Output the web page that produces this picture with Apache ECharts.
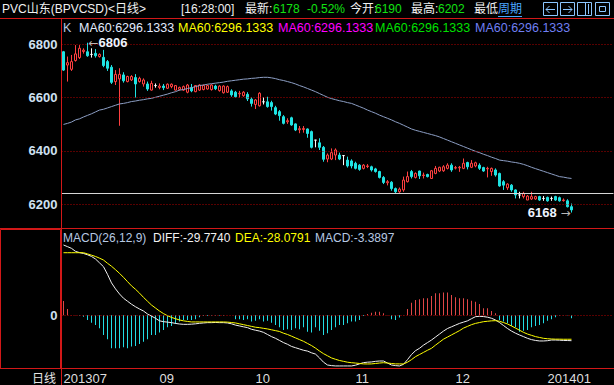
<!DOCTYPE html>
<html><head><meta charset="utf-8">
<script src="https://cdn.jsdelivr.net/npm/echarts@6/dist/echarts.min.js"></script>
<style>html,body{margin:0;padding:0;background:#000;}#c{width:614px;height:385px;}</style>
</head><body><div id="c"></div>
<script>
// ---- data ----
const open = [
6772,6722,6706,6739,6750,6773,6772,6762,6766,6754,
6751,6735,6714,6660,6670,6685,6660,6666,6675,6660,
6651,6651,6628,6645,6638,6643,6635,6641,6628,6631,
6628,6620,6637,6622,6628,6630,6632,6630,6643,6626,
6618,6620,6625,6620,6614,6607,6612,6594,6574,6569,
6584,6584,6581,6562,6547,6528,6509,6524,6501,6479,
6480,6482,6472,6440,6430,6413,6369,6369,6384,6384,
6382,6365,6362,6353,6346,6334,6341,6340,6332,6322,
6300,6280,6282,6258,6246,6253,6284,6322,6300,6324,
6307,6311,6296,6315,6324,6325,6334,6346,6335,6336,
6334,6356,6338,6343,6346,6337,6332,6322,6328,6315,
6284,6261,6271,6253,6234,6228,6215,6219,6219,6228,
6221,6225,6221,6228,6224,6213,6212,6190];
const close = [
6703,6731,6735,6764,6785,6778,6757,6762,6757,6762,
6720,6710,6657,6687,6687,6663,6679,6679,6651,6672,
6666,6632,6653,6645,6643,6637,6650,6650,6645,6638,
6641,6647,6625,6645,6647,6645,6645,6647,6633,6643,
6643,6641,6610,6603,6616,6620,6595,6578,6591,6616,
6584,6566,6566,6538,6532,6503,6513,6497,6478,6483,
6484,6465,6413,6440,6413,6368,6384,6393,6403,6369,
6382,6343,6343,6334,6330,6346,6343,6328,6322,6300,
6281,6284,6258,6246,6256,6290,6303,6303,6315,6306,
6309,6303,6325,6334,6338,6340,6346,6328,6337,6338,
6353,6340,6353,6355,6334,6324,6334,6334,6309,6268,
6271,6275,6253,6234,6234,6240,6230,6228,6228,6215,
6221,6212,6221,6215,6212,6215,6190,6178];
const low = [
6700,6660,6700,6735,6745,6765,6753,6750,6750,6750,
6714,6700,6651,6647,6494,6656,6657,6662,6600,6656,
6641,6625,6626,6637,6631,6628,6632,6635,6626,6626,
6625,6616,6620,6620,6625,6627,6630,6626,6628,6622,
6615,6617,6603,6600,6600,6603,6587,6566,6557,6566,
6574,6562,6551,6534,6513,6499,6501,6494,6474,6466,
6468,6449,6409,6413,6403,6359,6357,6365,6365,6365,
6346,6337,6334,6330,6325,6330,6335,6322,6318,6296,
6275,6270,6250,6240,6242,6246,6281,6296,6296,6294,
6296,6300,6294,6312,6320,6321,6330,6321,6330,6321,
6331,6330,6335,6338,6328,6321,6300,6306,6303,6265,
6253,6253,6246,6221,6221,6221,6215,6215,6216,6212,
6212,6209,6212,6212,6209,6209,6187,6168];
const high = [
6775,6754,6760,6797,6797,6785,6806,6785,6782,6766,
6779,6741,6722,6703,6710,6695,6682,6684,6688,6678,
6672,6660,6663,6653,6653,6651,6653,6653,6647,6641,
6645,6651,6651,6647,6650,6649,6648,6650,6648,6646,
6646,6645,6631,6625,6625,6624,6620,6601,6594,6620,
6601,6603,6588,6569,6553,6534,6522,6528,6503,6493,
6493,6484,6476,6440,6447,6418,6390,6409,6409,6393,
6384,6378,6368,6359,6350,6350,6350,6344,6336,6325,
6305,6290,6286,6262,6262,6303,6322,6328,6319,6325,
6318,6314,6328,6343,6340,6346,6353,6353,6343,6343,
6371,6359,6365,6359,6353,6340,6340,6337,6334,6318,
6290,6278,6275,6255,6246,6246,6234,6246,6231,6231,
6230,6228,6228,6231,6228,6221,6218,6202];
const ma60 = [
6499,6503,6508,6516,6520,6527,6533,6539,6546,6553,
6556,6561,6566,6571,6576,6578,6581,6585,6587,6590,
6592,6595,6597,6601,6605,6609,6613,6618,6622,6628,
6630,6634,6637,6641,6645,6647,6650,6652,6654,6656,
6658,6661,6663,6665,6667,6669,6670,6672,6673,6675,
6676,6676,6674,6671,6667,6664,6660,6656,6651,6645,
6640,6634,6628,6622,6615,6608,6601,6596,6592,6588,
6585,6581,6578,6572,6566,6560,6553,6547,6541,6534,
6528,6522,6516,6509,6503,6496,6489,6482,6477,6473,
6469,6465,6461,6457,6452,6446,6440,6434,6428,6422,
6416,6410,6404,6398,6393,6387,6382,6376,6371,6365,
6363,6361,6358,6356,6353,6349,6344,6338,6333,6328,
6323,6318,6313,6308,6303,6301,6298,6296.1333];
const diff = [
82.4,80.5,78.5,75,73.5,72.5,71,69,66,61.5,
57,48,38,31,25,20,16.5,13,10,7.4,
5,1.5,-1,-3.5,-6.5,-7.5,-8,-8.6,-9.5,-10.2,
-10.6,-10.6,-10.4,-10,-9.4,-9,-8.6,-8.6,-8.4,-8.6,
-8.6,-9,-10,-11.5,-12.5,-13.5,-14.5,-16.4,-17.5,-18.5,
-20,-22.5,-25,-27,-29.5,-32,-34,-36.5,-38,-39.5,
-41,-42,-44,-45.5,-50,-55,-58.3,-59,-59.4,-59.4,
-59.4,-59.4,-59.4,-58.5,-57,-55.5,-55,-54.7,-54,-53.6,
-53.6,-56,-58.3,-59,-59.4,-57.5,-52,-46,-41.5,-38.7,
-35,-32,-29,-25.5,-22,-18.5,-15.5,-13.5,-11.5,-9.5,
-8,-6.5,-4,-1.6,-1.2,-1.5,-2.2,-3.5,-5.5,-8.5,
-12,-15.5,-18.5,-21,-23.1,-25,-27,-28.5,-29.5,-30.1,
-30.1,-29.8,-29,-29,-29.2,-29.5,-29.6,-29.774];
const dea = [
73.4,73.4,73.4,73.4,73.4,73.4,72,70.5,69,67,
64.8,61,57.5,53.5,49.2,44.5,39.5,34.5,30.5,26,
21,16.5,12,8.5,5,2,-0.5,-2.5,-4,-5.5,
-6.5,-7.2,-7.8,-7.8,-7.8,-7.8,-7.8,-7.8,-7.8,-7.8,
-7.8,-8,-8.5,-9,-10,-11,-12,-13,-14,-14.5,
-15.3,-16,-17,-18,-19,-21,-22.5,-24.5,-26.5,-28.5,
-30.5,-33,-35.5,-38.5,-41.9,-45,-47.5,-50,-51.6,-53,
-54,-55,-55.6,-56,-56.5,-57,-57.1,-57,-56.5,-56,
-55.6,-56,-56.5,-57,-57,-57.1,-55,-52,-48.5,-46,
-43.5,-41,-38.7,-35,-31.5,-28,-25.5,-23,-20.5,-18,
-15,-13,-11,-9.5,-8.5,-7.5,-7,-6.5,-6.3,-7,
-8.5,-10.2,-12.5,-15,-17.5,-20,-22,-23.5,-25,-26,
-27,-27.5,-27.8,-28,-28,-28.1,-28.1,-28.0791];
const macd = [
16.8,7.4,0.3,0.2,-0.5,-1.6,-5.5,-8.6,-11.3,-15.2,
-23,-28.1,-38.7,-38.7,-38.7,-37.5,-38.7,-36.7,-35.9,-33.6,
-30.9,-28.1,-23,-23,-20.3,-17.2,-14.1,-12.5,-10.2,-7.4,
-5.5,-5.5,-5.5,-4.7,-2.3,-0.8,-0.8,-0.4,-0.4,-0.4,
-0.4,0.1,0.1,-4.7,-4.7,-5.5,-4.7,-7.4,-6.3,-4.7,
-7.4,-6.3,-8.6,-11.3,-14.1,-17.2,-16.4,-17.2,-15.2,-16.4,
-14.1,-19.2,-20.3,-14.1,-18,-23.1,-21.1,-17.2,-14.1,-11.3,
-11.3,-9.4,-7.4,-7.4,-5.5,-0.8,1.6,3.1,4.3,4.3,
2.3,0.2,-4.7,-5.5,-2.7,0.2,7.4,14.8,18,18.8,
19.9,19.9,22.7,25.8,25.8,26.6,26.6,23.8,21.1,19.9,
19.9,18.8,17.2,16,13.3,8.2,8.2,5.1,2.3,-5.5,
-7.4,-9.4,-12.5,-14.1,-19.2,-18,-17.2,-14.1,-12.5,-11.3,
-9.4,-6.3,-4.7,-2.3,-0.5,-0.3,-0.2,-3.3897];
const priceTicks = [6200, 6400, 6600, 6800];
const refLine = 6241;
const monthTickIdx = [0, 24, 48, 73, 98, 121];
const monthTickText = ['201307', '09', '10', '11', '12', '201401'];
const changePct = '-0.52%';
const clockText = '[16:28:00]';
const SLOTS = 138; // empty room at right of the last candle
const slots = Array.from({length: SLOTS}, (_, i) => String(i));

// ---- derived ----
const candleData = open.map((o, i) => [o, close[i], low[i], high[i]]);
let hiIdx = 0, loIdx = 0;
high.forEach((v, i) => { if (v > high[hiIdx]) hiIdx = i; });
low.forEach((v, i) => { if (v < low[loIdx]) loIdx = i; });
const last = open.length - 1;

const RED = '#d21818';
const UP = '#ff4040', DOWN = '#1fe3e3';
const GREEN = '#12e012';
const LBL = '#cfe0f2';
const ICON = '#8cc6ff';
const FF = '"Liberation Sans", "Noto Sans CJK SC", sans-serif';

function txt(text, x, y, fill, size, extra) {
  return {type: 'text', z: 20, style: Object.assign({text: String(text), x: x, y: y, fill: fill,
    fontSize: size || 12, fontFamily: FF, verticalAlign: 'middle', textAlign: 'left'}, extra || {})};
}
function seg(x1, y1, x2, y2, color) {
  return {type: 'line', z: 30, shape: {x1: x1, y1: y1, x2: x2, y2: y2}, style: {stroke: color, lineWidth: 1}};
}
function box(x, y, w, h) {
  return {type: 'rect', z: 30, shape: {x: x, y: y, width: w, height: h}, style: {fill: 'rgba(0,0,0,0)', stroke: ICON, lineWidth: 1}};
}
const maColors = ['#e2ecff', '#ffff00', '#ff00ff', '#00e000', '#6f7ff2'];
const maX = [79, 178, 278, 375, 475];
const maStr = 'MA60:' + ma60[last].toFixed(4);

const graphics = [
  seg(0, 18.5, 614, 18.5, RED),
  seg(0, 228.5, 614, 228.5, RED),
  seg(0, 368.5, 614, 368.5, RED),
  seg(61.5, 18.5, 61.5, 385, RED),
  {type: 'rect', z: 30, shape: {x: 0.5, y: 229.5, width: 60, height: 139}, style: {fill: 'rgba(0,0,0,0)', stroke: RED, lineWidth: 1}},
  // header icons and underline
  box(543.5, 2.5, 14, 13), box(560.5, 2.5, 14, 13), box(577.5, 2.5, 14, 13), box(595.5, 2.5, 14, 13),
  seg(546, 9.5, 555, 9.5, ICON), seg(546, 9.5, 549.5, 6, ICON), seg(546, 9.5, 549.5, 13, ICON),
  seg(563, 9.5, 572, 9.5, ICON), seg(572, 9.5, 568.5, 6, ICON), seg(572, 9.5, 568.5, 13, ICON),
  seg(585.5, 3, 585.5, 15, ICON), seg(588.5, 4, 588.5, 14, ICON),
  box(599.5, 6.5, 6, 5),
  seg(498, 16.5, 522, 16.5, '#4aa6ff'),
  // header
  txt('PVC山东(BPVCSD)<日线>', 2, 9, '#f0f0f0', 12),
  txt(clockText, 181, 9, '#f0f0f0', 12),
  txt('最新:', 245, 9, '#f0f0f0', 12),
  txt(close[last], 273, 9, GREEN, 12),
  txt(changePct, 307, 9, GREEN, 12),
  txt('今开:', 350, 9, '#f0f0f0', 12),
  txt(open[last], 375, 9, GREEN, 12),
  txt('最高:', 411, 9, '#f0f0f0', 12),
  txt(high[last], 438, 9, GREEN, 12),
  txt('最低', 474, 9, '#f0f0f0', 12),
  txt('周期', 498, 9, '#4aa6ff', 12),
  // main legend
  txt('K', 63, 28, '#b6c8e2', 12.5),
  // macd legend
  txt('MACD(26,12,9)', 63, 238, '#b6c8e2', 12),
  txt('DIFF:' + diff[last].toFixed(4), 153, 238, '#f2f2f2', 12),
  txt('DEA:' + dea[last].toFixed(4), 235, 238, '#ffff00', 12),
  txt('MACD:' + macd[last].toFixed(4), 315, 238, '#b6c8e2', 12),
  // bottom left
  txt('日线', 56, 377, '#e6e6e6', 12, {textAlign: 'right', fontFamily: '"Noto Sans CJK SC"'})
];
maColors.forEach((c, k) => graphics.push(txt(maStr, maX[k], 28, c, 12.5)));

const gridLines = priceTicks.map(v => ({yAxis: v}));
gridLines.push({yAxis: refLine, lineStyle: {type: 'solid', color: '#d6d6d6', width: 1}});

const chart = echarts.init(document.getElementById('c'), null, {renderer: 'svg', width: 614, height: 385});
chart.setOption({
  backgroundColor: '#000',
  animation: false,
  grid: [
    {left: 61.5, width: 552, top: 19, height: 209},
    {left: 61.5, width: 552, top: 229, height: 139.5}
  ],
  xAxis: [
    {type: 'category', gridIndex: 0, data: slots, boundaryGap: true,
     axisLine: {show: false}, axisTick: {show: false}, axisLabel: {show: false}, splitLine: {show: false}},
    {type: 'category', gridIndex: 1, data: slots, boundaryGap: true,
     axisLine: {show: false}, axisTick: {show: false}, splitLine: {show: false},
     axisLabel: {show: true, interval: (i) => monthTickIdx.indexOf(i) >= 0,
       formatter: (v, i) => { const k = monthTickIdx.indexOf(i); return k >= 0 ? monthTickText[k] : ''; },
       align: 'left', color: '#dedede', fontSize: 13, margin: 3,
       fontFamily: '"Liberation Sans Narrow", "Liberation Sans", sans-serif'}}
  ],
  yAxis: [
    {type: 'value', gridIndex: 0, min: 6110, max: 6895, scale: true,
     axisLine: {show: false}, axisTick: {show: false}, splitLine: {show: false},
     axisLabel: {customValues: priceTicks, formatter: (v) => String(v), color: LBL, fontSize: 13, fontWeight: 'bold', fontFamily: '"Liberation Sans"', margin: 4}},
    {type: 'value', gridIndex: 1, min: -62.4, max: 101.2,
     axisLine: {show: false}, axisTick: {show: false}, splitLine: {show: false},
     axisLabel: {customValues: [0], formatter: (v) => String(v), color: LBL, fontSize: 13, fontWeight: 'bold', fontFamily: '"Liberation Sans"', margin: 4}}
  ],
  graphic: {elements: graphics},
  series: [
    {type: 'candlestick', xAxisIndex: 0, yAxisIndex: 0, data: candleData, barWidth: 3,
     silent: true,
     itemStyle: {color: '#000000', color0: DOWN, borderColor: UP, borderColor0: DOWN, borderColorDoji: '#ffffff', borderWidth: 1},
     markLine: {silent: true, symbol: ['none', 'none'], label: {show: false},
       lineStyle: {type: [1, 2], color: '#b00000', width: 1}, data: gridLines},
     markPoint: {silent: true, symbol: 'rect', symbolSize: 0,
       label: {show: true,
         rich: {ar: {color: '#b8b8b8', fontSize: 12, fontFamily: '"DejaVu Sans"'},
                num: {color: '#eef4ff', fontSize: 13, fontWeight: 'bold', fontFamily: '"Liberation Sans"'}}},
       data: [
         {coord: [slots[hiIdx], high[hiIdx]], value: high[hiIdx],
          label: {position: 'right', distance: 1, formatter: '{ar|←}{num|' + high[hiIdx] + '}'}},
         {coord: [slots[loIdx], low[loIdx]], value: low[loIdx],
          label: {position: 'left', distance: 1, formatter: '{num|' + low[loIdx] + '}{ar| →}'}}
       ]}
    },
    {type: 'line', xAxisIndex: 0, yAxisIndex: 0, data: ma60, symbol: 'none', silent: true,
     lineStyle: {color: '#8c9ec4', width: 1}},
    {type: 'bar', xAxisIndex: 1, yAxisIndex: 1, data: macd, barWidth: 1, silent: true,
     itemStyle: {color: (p) => p.value >= 0 ? '#e04646' : '#22dce4'},
     markLine: {silent: true, symbol: ['none', 'none'], label: {show: false},
       lineStyle: {type: [1, 2], color: '#b00000', width: 1}, data: [{yAxis: 0}]}},
    {type: 'line', xAxisIndex: 1, yAxisIndex: 1, data: diff, symbol: 'none', silent: true,
     lineStyle: {color: '#f0f0f0', width: 1}},
    {type: 'line', xAxisIndex: 1, yAxisIndex: 1, data: dea, symbol: 'none', silent: true,
     lineStyle: {color: '#ffff00', width: 1}}
  ]
});
</script>
</body></html>
